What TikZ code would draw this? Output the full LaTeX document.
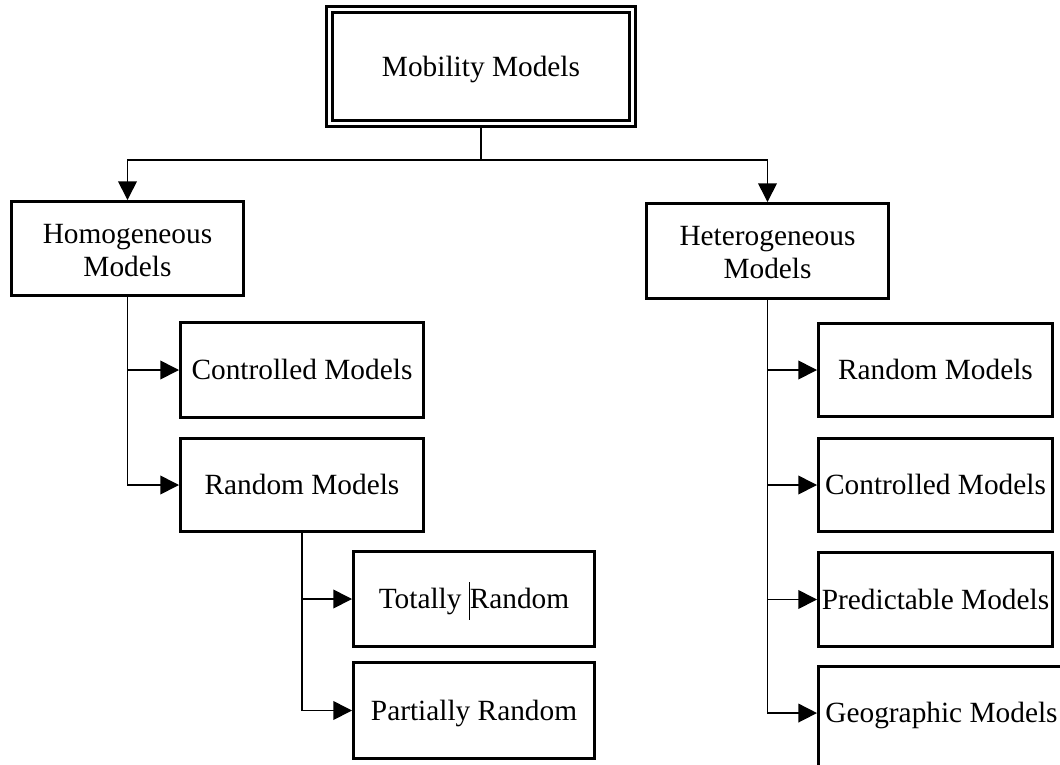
\documentclass[tikz,border=0pt]{standalone}
\usepackage{fontspec}
\setmainfont{Liberation Serif}
\usetikzlibrary{arrows.meta}
\begin{document}
\begin{tikzpicture}[x=0.75pt,y=-0.75pt,
  every node/.style={font=\fontsize{22}{24.75}\selectfont, inner sep=0pt},
  box/.style={draw, line width=2.6pt, rectangle, fill=white},
  rootbox/.style={draw, rectangle, line width=2.25pt, double, double distance=1.9pt},
  sz/.style 2 args={minimum width=#1*0.75pt, minimum height=#2*0.75pt},
  oneline/.style={text height=14.5pt, text depth=0pt},
  twoline/.style={align=center, text height=41.25pt, text depth=0pt},
  link/.style={line width=1.2pt},
  arr/.style={link, -{Triangle[length=14pt,width=14pt]}}]
\clip (0,0) rectangle (1060,764);
\fill[white] (0,0) rectangle (1060,764);

% root of the hierarchy
\node[rootbox, sz={303.5}{114.5}, oneline] (mm) at (481,66.5) {Mobility Models};

% second level
\node[box, sz={231.5}{93.5}, twoline] (hom) at (127.5,248.5) {Homogeneous\\Models};
\node[box, sz={241.5}{94.5}, twoline] (het) at (767.5,251) {Heterogeneous\\Models};

% homogeneous branch
\node[box, sz={242.5}{94.5}, oneline] (lc) at (302,370) {Controlled Models};
\node[box, sz={242.5}{92.5}, oneline] (lr) at (302,485) {Random Models};
\node[box, sz={240.5}{94.5}, oneline] (tr) at (474,599)
  {Totally \smash{\rule[-8.25pt]{0.75pt}{28.5pt}}Random};
\node[box, sz={240.5}{95.5}, oneline] (pr) at (474,710.5) {Partially Random};

% heterogeneous branch
\node[box, sz={233.5}{92.5}, oneline] (rr) at (935.5,370) {Random Models};
\node[box, sz={233.5}{92.5}, oneline] (rc) at (935.5,485) {Controlled Models};
\node[box, sz={233.5}{93.5}, oneline] (rp) at (935.5,599.5) {Predictable Models};
\node[box, sz={245.5}{99.5}, text height=14.5pt, text depth=5.2pt] (rg) at (941.5,716.5) {Geographic Models};

% connectors
\coordinate (split) at (481,160);
\draw[link] (mm.south) -- (split);
\draw[arr] (split) -| (hom.north);
\draw[arr] (split) -| (het.north);

\draw[arr] (hom.south) |- (lc.west);
\draw[arr] (hom.south) |- (lr.west);

\draw[arr] (lr.south) |- (tr.west);
\draw[arr] (lr.south) |- (pr.west);

\draw[arr] (het.south) |- (rr.west);
\draw[arr] (het.south) |- (rc.west);
\draw[arr] (het.south) |- (rp.west);
\draw[arr] (het.south) |- ([yshift=2.6pt]rg.west);
\end{tikzpicture}
\end{document}
